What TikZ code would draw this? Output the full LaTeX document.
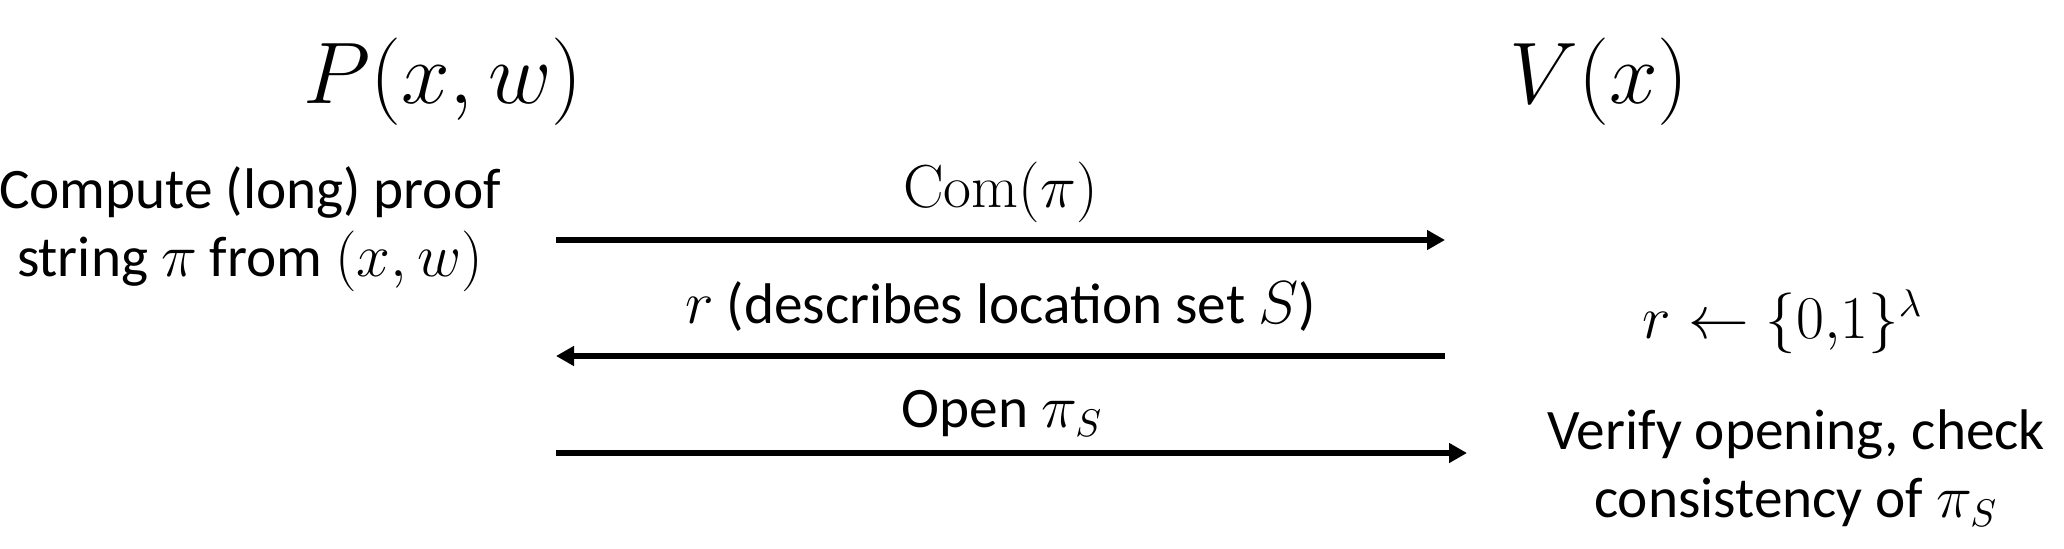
\documentclass[tikz,border=0pt]{standalone}
\usepackage{amsmath}
\usepackage[no-math]{fontspec}
\setmainfont{Carlito}
\usetikzlibrary{arrows.meta}
\usetikzlibrary{positioning}

\begin{document}
\begin{tikzpicture}[msg/.style={line width=1.7pt,-{Triangle[length=1.8mm,width=1.9mm]}},
  every node/.style={font=\fontsize{16.3}{19.4}\selectfont}]
\useasboundingbox (0,0) rectangle (20.64,-5.48);
% parties
  \node (prover) at (4.43,-0.82) {\fontsize{23}{27}\selectfont$P(x,w)$};
  \node (verifier) at (15.99,-0.82) {\fontsize{23}{27}\selectfont$V(x)$};
  \node (compute) at (2.5,-2.29) [align=center] {Compute (long) proof\\ string $\pi$ from $(x,w)$};
  \node (sample) at (17.83,-3.22) {\fontsize{16}{19}\selectfont$r \leftarrow \{0{,}1\}^{\lambda}$};
  \node (verify) at (17.96,-4.68) [align=center] {Verify opening, check\\ consistency of $\pi_S$};
% arrow ends
  \coordinate (a1) at (5.56,-2.40);
  \coordinate (b1) at (14.45,-2.40);
  \coordinate (a2) at (5.56,-3.56);
  \coordinate (b2) at (14.45,-3.56);
  \coordinate (a3) at (5.56,-4.53);
  \coordinate (b3) at (14.67,-4.53);
% messages
\draw [msg] (a1) -- (b1) node (com) [midway,above=.03cm] {\fontsize{18}{21}\selectfont$\mathrm{Com}(\pi)$};
\draw [msg] (b2) -- (a2) node (chal) [midway,above=.1cm] {$r$ (describes location set $S$)};
\draw [msg] (a3) -- (b3) node (open) [pos=.49,above=.02cm] {Open $\pi_S$};
\end{tikzpicture}
\end{document}
